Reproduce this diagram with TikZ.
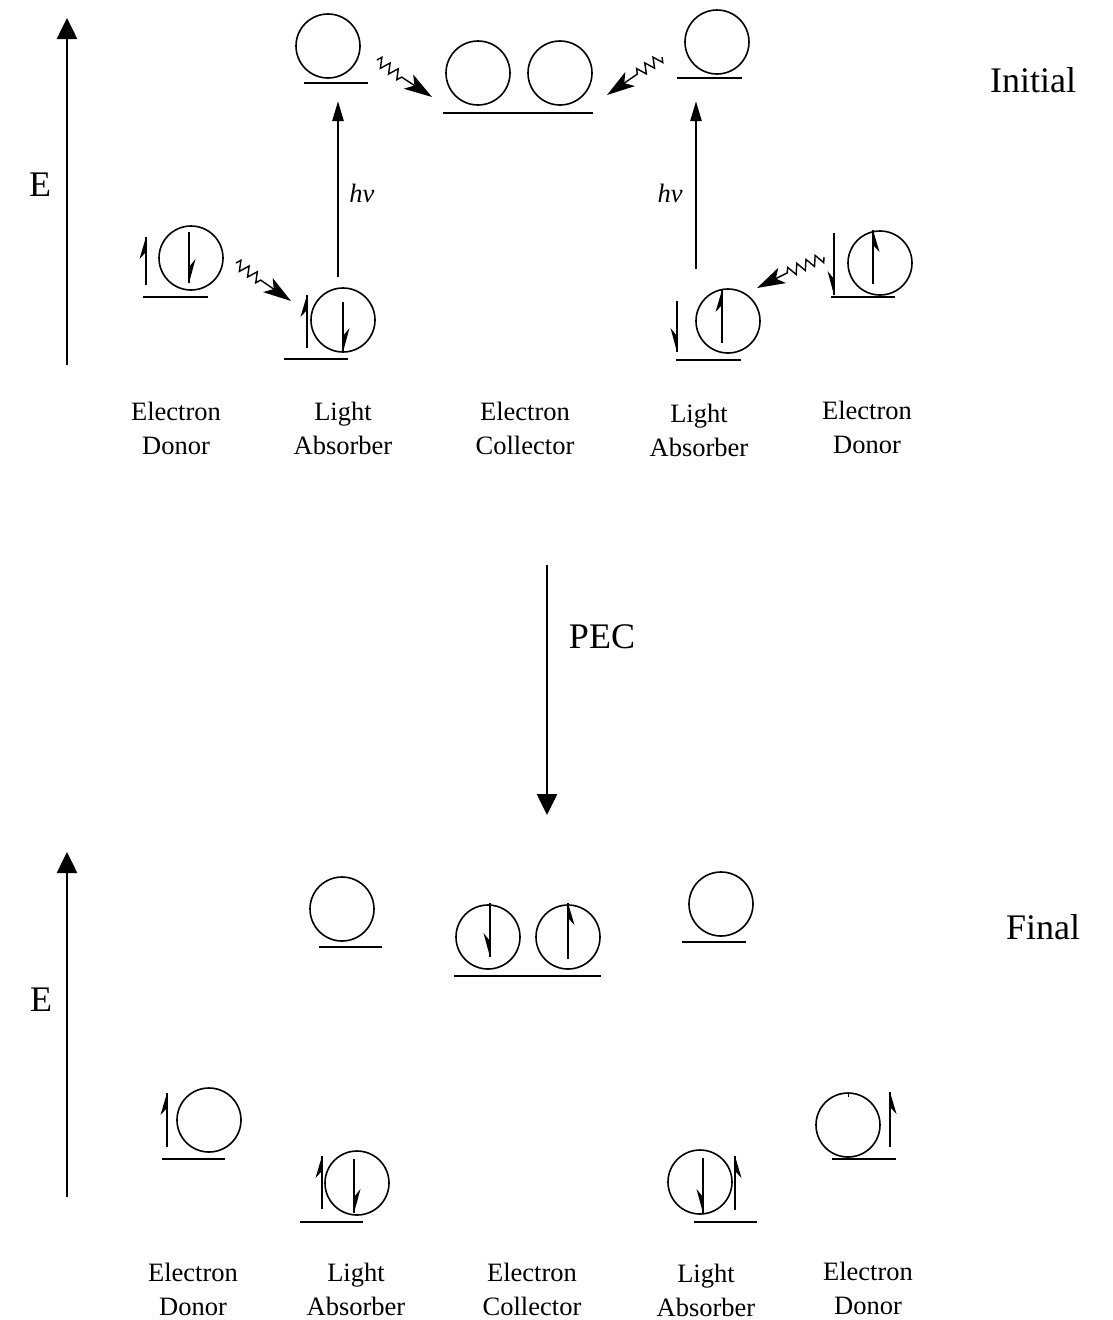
\documentclass[tikz,border=0pt]{standalone}
\usepackage{fontspec}
\setmainfont{Liberation Serif}
\usetikzlibrary{arrows.meta,decorations.pathmorphing}
\tikzset{
 orb/.style={circle,draw,line width=1.6pt,minimum size=64pt,inner sep=0pt},
 lvl/.style={line width=2.6pt},
 lbl/.style={align=center,font=\fontsize{26.5}{34}\selectfont},
 big/.style={font=\fontsize{36}{40}\selectfont},
 axis/.style={line width=2.6pt,-{Triangle[length=21pt,width=20pt]}},
 hvarrow/.style={line width=2.6pt,-{Triangle[length=20pt,width=11pt]}},
 wig/.style={line width=1.4pt,decorate,decoration={zigzag,segment length=10pt,amplitude=5pt}},
 wighead/.style={line width=1.4pt,-{Stealth[length=28pt,width=17pt,inset=7pt]}},
}
\newcommand\spinup[4]{\draw[line width=2pt] (#1,#2) -- (#1,#3);
  \fill (#1,#3) -- ({#1+#4*6.5},{#3+22}) -- (#1,{#3+15}) -- cycle;}
\newcommand\spindown[4]{\draw[line width=2pt] (#1,#2) -- (#1,#3);
  \fill (#1,#3) -- ({#1+#4*6.5},{#3-24}) -- (#1,{#3-16}) -- cycle;}
\begin{document}
\begin{tikzpicture}[x=1pt,y=-1pt]
\useasboundingbox (0,0) rectangle (1113,1320);
% ---------- Initial ----------
\coordinate (ax1b) at (67,365); \coordinate (ax1t) at (67,18);
\draw[axis] (ax1b) -- (ax1t);
\node[big] (E1) at (40,185) {E};
\node[big] (init) at (1033,80) {Initial};
\node[orb] (lumoL) at (328,46) {};
\node[orb] (colA) at (478,73) {};
\node[orb] (colB) at (560,73) {};
\node[orb] (lumoR) at (717,42) {};
\node[orb] (donL) at (191,258) {};
\node[orb] (absL) at (343,320) {};
\node[orb] (absR) at (728,321) {};
\node[orb] (donR) at (880,263) {};
\draw[lvl] (304,83) -- (368,83);
\draw[lvl] (443,113) -- (593,113);
\draw[lvl] (677,78) -- (742,78);
\draw[lvl] (143,297) -- (208,297);
\draw[lvl] (284,359) -- (348,359);
\draw[lvl] (676,360) -- (741,360);
\draw[lvl] (831,297) -- (895,297);
\spinup{146}{285}{237}{-1}
\spindown{189}{232}{283}{1}
\spinup{307}{348}{295}{-1}
\spindown{343}{302}{352}{1}
\spindown{677}{301}{352}{-1}
\spinup{722}{343}{290}{-1}
\spindown{834}{233}{295}{-1}
\spinup{873}{284}{230}{1}
% hv arrows
\coordinate (hvLs) at (338,277); \coordinate (hvLe) at (338,101);
\coordinate (hvRs) at (696,269); \coordinate (hvRe) at (696,101);
\draw[hvarrow] (hvLs) -- (hvLe);
\draw[hvarrow] (hvRs) -- (hvRe);
\node[lbl,font=\fontsize{26.5}{34}\selectfont\itshape] (hvL) at (362,193) {hv};
\node[lbl,font=\fontsize{26.5}{34}\selectfont\itshape] (hvR) at (670,193) {hv};
% wiggles
\coordinate (w1s) at (377,60); \coordinate (w1m) at (403,78); \coordinate (w1t) at (432,97);
\draw[wig] (w1s) -- (w1m); \draw[wighead] (w1m) -- (w1t);
\coordinate (w2s) at (662,57); \coordinate (w2m) at (636,75); \coordinate (w2t) at (607,95);
\draw[wig] (w2s) -- (w2m); \draw[wighead] (w2m) -- (w2t);
\coordinate (w3s) at (236,263); \coordinate (w3m) at (262,281); \coordinate (w3t) at (291,301);
\draw[wig] (w3s) -- (w3m); \draw[wighead] (w3m) -- (w3t);
\coordinate (w4s) at (824,257); \coordinate (w4m) at (787,273); \coordinate (w4t) at (757,288);
\draw[wig] (w4s) -- (w4m); \draw[wighead] (w4m) -- (w4t);
% labels
\node[lbl] (t1) at (176,428) {Electron\\Donor};
\node[lbl] (t2) at (343,428) {Light\\Absorber};
\node[lbl] (t3) at (525,428) {Electron\\Collector};
\node[lbl] (t4) at (699,430) {Light\\Absorber};
\node[lbl] (t5) at (867,427) {Electron\\Donor};
% ---------- PEC ----------
\coordinate (pecs) at (547,565); \coordinate (pece) at (547,815);
\draw[axis] (pecs) -- (pece);
\node[big] (pec) at (602,637) {PEC};
% ---------- Final ----------
\coordinate (ax2b) at (67,1197); \coordinate (ax2t) at (67,852);
\draw[axis] (ax2b) -- (ax2t);
\node[big] (E2) at (41,1000) {E};
\node[big] (fin) at (1043,927) {Final};
\node[orb] (bL) at (342,909) {};
\node[orb] (bcA) at (488,937) {};
\node[orb] (bcB) at (568,937) {};
\node[orb] (bR) at (721,904) {};
\node[orb] (bdonL) at (209,1120) {};
\node[orb] (babsL) at (357,1183) {};
\node[orb] (babsR) at (700,1182) {};
\node[orb] (bdonR) at (848,1125) {};
\draw[lvl] (319,947) -- (382,947);
\draw[lvl] (454,976) -- (601,976);
\draw[lvl] (682,942) -- (746,942);
\draw[lvl] (162,1159) -- (225,1159);
\draw[lvl] (300,1222) -- (363,1222);
\draw[lvl] (694,1222) -- (757,1222);
\draw[lvl] (832,1159) -- (896,1159);
\spindown{490}{903}{957}{-1}
\spinup{568}{959}{903}{1}
\spinup{167}{1147}{1093}{-1}
\spinup{322}{1209}{1156}{-1}
\spindown{354}{1159}{1213}{1}
\spindown{703}{1158}{1213}{-1}
\spinup{735}{1210}{1156}{1}
\spinup{890}{1147}{1092}{1}
\draw[line width=1pt] (848,1093) -- (848,1097);
\node[lbl] (b1) at (193,1289) {Electron\\Donor};
\node[lbl] (b2) at (356,1289) {Light\\Absorber};
\node[lbl] (b3) at (532,1289) {Electron\\Collector};
\node[lbl] (b4) at (706,1290) {Light\\Absorber};
\node[lbl] (b5) at (868,1288) {Electron\\Donor};
\end{tikzpicture}
\end{document}
